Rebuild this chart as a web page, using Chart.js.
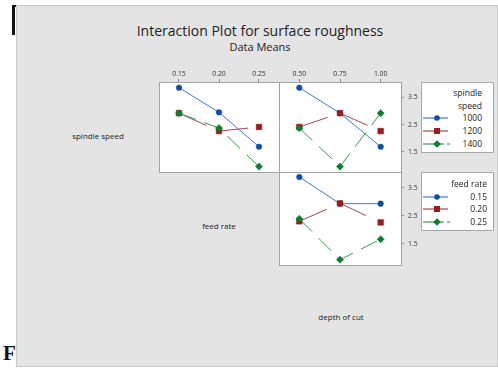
<!DOCTYPE html>
<html>
<head>
<meta charset="utf-8">
<script src="https://cdn.jsdelivr.net/npm/chart.js@4.4.0/dist/chart.umd.min.js"></script>
<style>
html,body{margin:0;padding:0;width:498px;height:368px;overflow:hidden;background:#fff;position:relative;font-family:"Open Sans","Noto Sans",sans-serif;color:#222;}
#bg{position:absolute;left:16px;top:5px;width:482px;height:362px;background:#e4e4e4;border:1px solid #cacaca;box-sizing:border-box;}
#brV{position:absolute;left:12px;top:5px;width:2.5px;height:30px;background:#111;}
#brH{position:absolute;left:12px;top:5px;width:4px;height:2px;background:#111;}
#fig{position:absolute;left:3px;top:342px;font-family:"Liberation Serif","DejaVu Serif",serif;font-weight:bold;font-size:21px;line-height:22px;color:#111;}
.t{position:absolute;white-space:nowrap;transform:translate(-50%,-50%);}
canvas{position:absolute;}
.leg{position:absolute;background:#fff;border:1px solid #a8a8a8;box-sizing:border-box;}
.lt{position:absolute;white-space:nowrap;font-size:8.5px;line-height:10px;transform:translateY(-50%);}
svg{position:absolute;}
</style>
</head>
<body>
<div id="fig">F</div>
<div id="bg"></div>
<div id="brV"></div><div id="brH"></div>
<div class="t" style="left:260px;top:30px;font-size:14px;">Interaction Plot for surface roughness</div>
<div class="t" style="left:260px;top:46px;font-size:11px;">Data Means</div>
<div class="t" style="left:98px;top:135px;font-size:8px;">spindle speed</div>
<div class="t" style="left:219px;top:225px;font-size:8px;">feed rate</div>
<div class="t" style="left:341px;top:316px;font-size:8px;">depth of cut</div>

<canvas id="c1" width="121" height="111" style="left:159px;top:62px"></canvas>
<canvas id="c2" width="144" height="111" style="left:279px;top:62px"></canvas>
<canvas id="c3" width="144" height="94" style="left:279px;top:172px"></canvas>

<div class="leg" id="leg1" style="left:421px;top:82px;width:73px;height:71px;"></div>
<div class="leg" id="leg2" style="left:421px;top:172px;width:73px;height:59px;"></div>

<script>
// ---- data ----
const feedRates = [0.15, 0.20, 0.25];
const depths = [0.50, 0.75, 1.00];
const speedLabels = ['1000', '1200', '1400'];
const feedLabels = ['0.15', '0.20', '0.25'];
const yTicks = [1.5, 2.5, 3.5];

// spindle speed lines vs feed rate
const speed1000ByFeed = [3.86, 2.95, 1.68];
const speed1200ByFeed = [2.92, 2.26, 2.41];
const speed1400ByFeed = [2.92, 2.37, 0.95];
// spindle speed lines vs depth of cut
const speed1000ByDepth = [3.86, 2.92, 1.68];
const speed1200ByDepth = [2.41, 2.92, 2.26];
const speed1400ByDepth = [2.37, 0.95, 2.92];
// feed rate lines vs depth of cut
const feed015ByDepth = [3.89, 2.94, 2.94];
const feed020ByDepth = [2.31, 2.95, 2.27];
const feed025ByDepth = [2.40, 0.94, 1.67];

// ---- styles ----
const styles = [
  {line:'#3d7dcc', point:'#0a4fa3', shape:'circle', r:2.8, dash:[], order:3},
  {line:'#ad4646', point:'#9b1c1c', shape:'rect', r:4.0, dash:[30,13], order:2},
  {line:'#3a9a48', point:'#0b7f2e', shape:'rectRot', r:3.6, dash:[18,9], order:1}
];

const panelPlugin = {
  id:'panel',
  beforeDraw(chart){
    const {ctx, chartArea:a} = chart;
    ctx.save();
    ctx.fillStyle = '#fff';
    ctx.fillRect(a.left, a.top, a.right - a.left, a.bottom - a.top);
    ctx.restore();
  },
  beforeDatasetsDraw(chart){
    const {ctx, chartArea:a} = chart;
    ctx.save();
    ctx.strokeStyle = '#a3a3a3';
    ctx.lineWidth = 1;
    ctx.strokeRect(a.left + 0.5, a.top + 0.5, a.right - a.left, a.bottom - a.top);
    ctx.restore();
  }
};

function zeroPad(s){ s.paddingTop = 0; s.paddingBottom = 0; s.paddingLeft = 0; s.paddingRight = 0; }

function makePanel(id, xVals, xMin, xMax, seriesList, showX, showY, padBottom){
  const datasets = seriesList.map((vals, i) => ({
    data: xVals.map((x, j) => ({x: x, y: vals[j]})),
    borderColor: styles[i].line,
    backgroundColor: styles[i].point,
    pointBackgroundColor: styles[i].point,
    pointBorderColor: styles[i].point,
    pointBorderWidth: 0.5,
    pointStyle: styles[i].shape,
    pointRadius: styles[i].r,
    borderWidth: 1,
    borderDash: styles[i].dash,
    order: styles[i].order,
    tension: 0,
    clip: false
  }));
  return new Chart(document.getElementById(id), {
    type: 'line',
    data: {datasets: datasets},
    options: {
      responsive: false,
      animation: false,
      events: [],
      layout: {autoPadding: false, padding: {left: 0, top: 0, right: showY ? 0 : 1, bottom: padBottom}},
      plugins: {legend: {display: false}, tooltip: {enabled: false}},
      scales: {
        x: {
          type: 'linear', position: 'top', min: xMin, max: xMax, bounds: 'data',
          display: showX,
          grid: {display: true, drawOnChartArea: false, drawTicks: true, tickLength: 3, color: '#8a8a8a'},
          border: {display: false},
          ticks: {font: {size: 6.8, family: 'Open Sans'}, color: '#333', padding: 1, autoSkip: false, maxRotation: 0, minRotation: 0,
                  callback: v => v.toFixed(2)},
          afterBuildTicks: s => { s.ticks = xVals.map(v => ({value: v})); },
          afterFit: s => { s.height = showX ? 20 : 0; zeroPad(s); }
        },
        y: {
          type: 'linear', position: 'right', min: 0.75, max: 4.07, bounds: 'data',
          display: showY,
          grid: {display: true, drawOnChartArea: false, drawTicks: true, tickLength: 3, color: '#8a8a8a'},
          border: {display: false},
          ticks: {font: {size: 6.8, family: 'Open Sans'}, color: '#333', padding: 4, autoSkip: false,
                  callback: v => v.toFixed(1)},
          afterBuildTicks: s => { s.ticks = yTicks.map(v => ({value: v})); },
          afterFit: s => { s.width = showY ? 22 : 0; zeroPad(s); }
        }
      }
    },
    plugins: [panelPlugin]
  });
}

makePanel('c1', feedRates, 0.125, 0.275, [speed1000ByFeed, speed1200ByFeed, speed1400ByFeed], true, false, 1);
makePanel('c2', depths, 0.375, 1.125, [speed1000ByDepth, speed1200ByDepth, speed1400ByDepth], true, true, 1);
makePanel('c3', depths, 0.375, 1.125, [feed015ByDepth, feed020ByDepth, feed025ByDepth], false, true, 1);

// ---- legends ----
function swatch(i, extraDash){
  const s = styles[i];
  let marker;
  if (s.shape === 'circle') marker = `<circle cx="14" cy="5" r="2.8" fill="${s.point}"/>`;
  else if (s.shape === 'rect') marker = `<rect x="11" y="2" width="6" height="6" fill="${s.point}"/>`;
  else marker = `<polygon points="14,1.2 17.8,5 14,8.8 10.2,5" fill="${s.point}"/>`;
  const line = extraDash
    ? `<line x1="0" y1="5" x2="21" y2="5" stroke="${s.line}" stroke-width="1.2"/><line x1="24" y1="5" x2="27" y2="5" stroke="${s.line}" stroke-width="1.2"/>`
    : `<line x1="0" y1="5" x2="25" y2="5" stroke="${s.line}" stroke-width="1.2"/>`;
  return `<svg width="28" height="10" viewBox="0 0 28 10">${line}${marker}</svg>`;
}
function buildLegend(elId, titles, labels, titleTops, itemTops, rightEdge){
  const el = document.getElementById(elId);
  let html = '';
  titles.forEach((t, k) => {
    html += `<div class="lt" style="right:${rightEdge}px;top:${titleTops[k]}px;">${t}</div>`;
  });
  labels.forEach((lab, i) => {
    html += `<div style="position:absolute;left:1px;top:${itemTops[i] - 5}px;width:28px;height:10px;">${swatch(i, i === 2)}</div>`;
    html += `<div class="lt" style="right:${rightEdge}px;top:${itemTops[i]}px;">${lab}</div>`;
  });
  el.innerHTML = html;
}
buildLegend('leg1', ['spindle', 'speed'], speedLabels, [10, 23], [35, 48, 61], 11);
buildLegend('leg2', ['feed rate'], feedLabels, [11], [24, 36, 49], 6);
</script>
</body>
</html>
